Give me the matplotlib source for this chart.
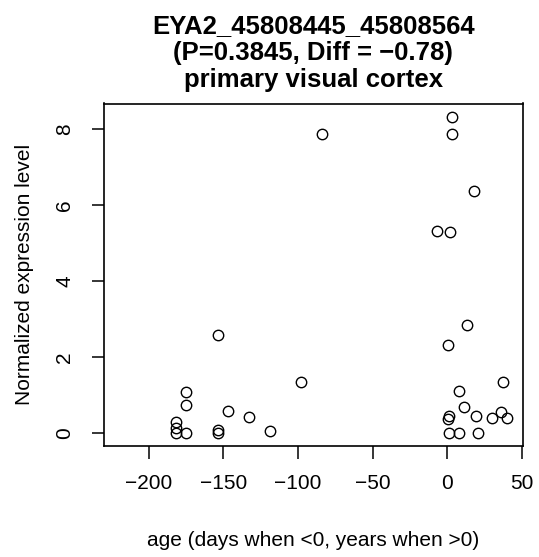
import matplotlib
matplotlib.use("Agg")
import matplotlib.pyplot as plt
import numpy as np

plt.rcParams['font.family'] = ['Liberation Sans', 'DejaVu Sans']

# ages (days when <0, years when >0) and normalized expression
age = [-83.9, -153.7, -98.0, -174.8, -174.8, -146.9, -132.8, -181.7, -181.7,
       -181.7, -174.8, -153.7, -153.7, -118.7,
       2.9, 2.9, 18.0, -6.8, 2.0, 13.1, 0.4, 37.2, 8.0, 11.1, 0.9, 0.5,
       19.1, 29.9, 35.9, 39.9, 1.1, 8.0, 20.7]
expr = [7.87, 2.58, 1.35, 1.09, 0.75, 0.58, 0.43, 0.31, 0.15,
        0.0, 0.0, 0.1, 0.0, 0.07,
        8.33, 7.87, 6.38, 5.33, 5.29, 2.85, 2.33, 1.34, 1.12, 0.69, 0.45, 0.38,
        0.45, 0.39, 0.57, 0.41, 0.02, 0.0, 0.0]
xticks = [-200, -150, -100, -50, 0, 50]
yticks = [0, 2, 4, 6, 8]

W, H = 539, 557
fig = plt.figure(figsize=(W / 100, H / 100), dpi=100)
ax = fig.add_axes([103.5 / W, 1 - 446 / H, (522.7 - 103.5) / W, (446 - 103.5) / H])

ax.plot(age, expr, 'o', mfc='none', mec='black', ms=7.5, mew=1.0)
ax.set_xlim(-230.2, 50.4)
ax.set_ylim(-0.334, 8.68)
ax.set_xticks(xticks)
ax.set_xticklabels([str(t).replace('-', '\u2212') for t in xticks])
ax.set_yticks(yticks)
ax.set_yticklabels([str(t) for t in yticks], rotation=90, va='center')
ax.tick_params(axis='both', length=9, width=1.1, labelsize=15, color='black')
ax.tick_params(axis='x', pad=11)
ax.tick_params(axis='y', pad=12)
for s in ax.spines.values():
    s.set_linewidth(1.2)

cx = 0.5 * (103.5 + 522.7) / W
fig.text(cx, 1 - 33.5 / H, 'EYA2_45808445_45808564',
         ha='center', va='baseline', fontsize=18.5, fontweight='bold')
fig.text(cx, 1 - 60 / H, '(P=0.3845, Diff = \u22120.78)',
         ha='center', va='baseline', fontsize=18.5, fontweight='bold')
fig.text(cx, 1 - 86.5 / H, 'primary visual cortex',
         ha='center', va='baseline', fontsize=18.5, fontweight='bold')

fig.text(cx, 1 - 546 / H, 'age (days when <0, years when >0)',
         ha='center', va='baseline', fontsize=15)
fig.text(25 / W, 1 - 0.5 * (103.5 + 446) / H, 'Normalized expression level',
         ha='center', va='center', rotation=90, fontsize=15)

fig.savefig('out.png', dpi=100)
